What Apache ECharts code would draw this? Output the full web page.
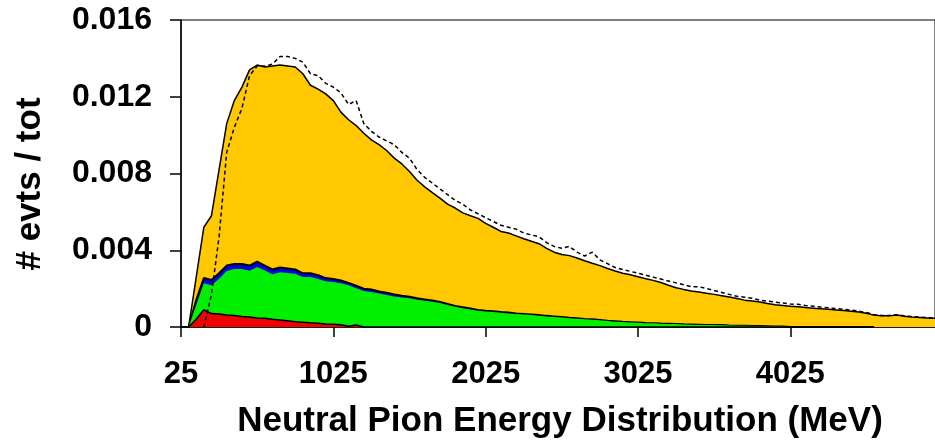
<!DOCTYPE html>
<html>
<head>
<meta charset="utf-8">
<script src="https://cdn.jsdelivr.net/npm/echarts@6/dist/echarts.min.js"></script>
<style>
html,body{margin:0;padding:0;background:#fff;}
#chart{width:935px;height:446px;}
</style>
</head>
<body>
<div id="chart"></div>
<script>
// Energy bins (MeV), step 50
const energies = [];
for (let e = 25; e <= 4975; e += 50) energies.push(String(e));

const yTicks = [0, 0.004, 0.008, 0.012, 0.016];

// Total distribution (yellow, solid outline)
const totalVals = [
0,0,0.0026,0.0052,0.0058,0.0082,0.0106,0.0118,0.0125,0.0134,
0.01365,0.01355,0.0136,0.01365,0.0136,0.01355,0.0132,0.0126,0.0124,0.01215,
0.0118,0.0112,0.0108,0.0105,0.0101,0.00975,0.0095,0.0092,0.0088,0.0085,
0.0081,0.00765,0.0073,0.0070,0.00672,0.0064,0.0062,0.00595,0.0058,0.00566,
0.0054,0.0052,0.00498,0.0049,0.00475,0.0046,0.00447,0.00434,0.0041,0.0039,
0.00378,0.00372,0.0036,0.00345,0.00332,0.0032,0.00305,0.00292,0.0028,0.00272,
0.00262,0.00252,0.00243,0.00232,0.00218,0.00205,0.00196,0.00188,0.00183,0.00176,
0.0017,0.00163,0.00156,0.00148,0.0014,0.00135,0.0013,0.00122,0.00116,0.00112,
0.00108,0.00105,0.00101,0.00098,0.00095,0.00092,0.00089,0.00086,0.00082,0.00078,
0.00072,0.00062,0.00058,0.00058,0.00062,0.00056,0.00052,0.0005,0.00047,0.00045
];

// Dashed comparison curve
const dashedVals = [
null,null,null,0,0.0017,0.0047,0.0091,0.0104,0.0114,0.0131,
0.0136,0.0136,0.0137,0.0141,0.0141,0.0140,0.0138,0.0132,0.0131,0.0127,
0.0125,0.0122,0.0116,0.0118,0.0106,0.0102,0.0099,0.0097,0.0095,0.0091,
0.0088,0.0082,0.0078,0.0075,0.0072,0.0069,0.0066,0.0064,0.0061,0.0059,
0.0057,0.0055,0.0053,0.0052,0.0051,0.0049,0.0048,0.0047,0.0044,0.0042,
0.0041,0.0042,0.0039,0.0037,0.0039,0.0035,0.0033,0.0031,0.0030,0.0029,
0.0028,0.0027,0.0026,0.0025,0.0024,0.0023,0.0022,0.0021,0.0021,0.0020,
0.0019,0.0018,0.0017,0.0016,0.00155,0.0015,0.0014,0.00135,0.0013,0.00125,
0.0012,0.00118,0.00112,0.00108,0.00104,0.0010,0.00096,0.00092,0.00088,0.00083,
0.00076,0.00064,0.0006,0.0006,0.00064,0.00058,0.00054,0.00052,0.00049,0.00047
];

// Blue component top
const blueVals = [
0,0,0.0014,0.00255,0.00245,0.0028,0.0032,0.00328,0.00328,0.0032,
0.0034,0.0032,0.0030,0.0031,0.00305,0.0030,0.0028,0.0028,0.0027,0.00255,
0.0025,0.00242,0.0023,0.00215,0.0020,0.00195,0.00185,0.00178,0.0017,0.00163,
0.00158,0.0015,0.00144,0.00138,0.00131,0.0012,0.0011,0.00103,0.00096,0.00089,
0.00085,0.00082,0.00078,0.00075,0.00071,0.00068,0.00065,0.00062,0.00058,0.00055,
0.00052,0.00048,0.00045,0.00042,0.0004,0.00037,0.00033,0.0003,0.00027,0.00025,
0.00023,0.00021,0.0002,0.00018,0.00017,0.00016,0.00014,0.00013,0.00012,0.00011,
0.0001,0.0001,0.00008,0.00007,0.00006,0.00005,0.00005,0.00004,0.00003,0.00002,
0,0,0,0,0,0,0,0,0,0,
0,0,null,null,null,null,null,null,null,null
];

// Green component top
const greenVals = [
0,0,0.00115,0.00228,0.00218,0.00252,0.00292,0.00302,0.00302,0.00293,
0.00313,0.00294,0.00275,0.00285,0.00281,0.00278,0.0026,0.0026,0.0025,0.00238,
0.00234,0.00228,0.00217,0.00202,0.00188,0.00183,0.00174,0.00167,0.00159,0.00154,
0.0015,0.00142,0.00137,0.00131,0.00125,0.00115,0.00105,0.00098,0.00091,0.00085,
0.00081,0.00078,0.00074,0.00071,0.00068,0.00065,0.00062,0.00059,0.00055,0.00052,
0.0005,0.00046,0.00043,0.0004,0.00038,0.00035,0.00031,0.00028,0.00026,0.00024,
0.00022,0.0002,0.00019,0.00017,0.00016,0.00015,0.00013,0.00012,0.00011,0.0001,
0.0001,0.00009,0.00008,0.00007,0.00006,0.00005,0.00005,0.00004,0.00003,0.00002,
0,0,0,0,0,0,0,0,0,0,
0,0,null,null,null,null,null,null,null,null
];

// Red component
const redVals = [
0,0,0.0004,0.0009,0.0007,0.00068,0.00063,0.0006,0.00055,0.00052,
0.00047,0.00045,0.0004,0.00036,0.00032,0.00028,0.00025,0.00022,0.0002,0.00016,
0.00014,0.00012,0.00004,0.0001,0,0,0,0,0,0,
0,0,0,0,0,0,0,0,0,0,
0,0,0,0,0,0,0,0,0,0,
0,0,0,0,0,0,0,0,0,0,
0,0,0,0,0,0,0,0,0,0,
0,0,0,0,0,0,0,0,0,0,
0,0,0,0,0,0,0,0,0,0,
0,0,null,null,null,null,null,null,null,null
];

const chart = echarts.init(document.getElementById('chart'), null, {renderer: 'canvas'});
const FONT = '"Liberation Sans", Arial, sans-serif';

function areaSeries(name, data, fill, lineW, z) {
  return {
    name: name, type: 'line', data: data, symbol: 'none', z: z,
    lineStyle: {color: '#000', width: lineW},
    areaStyle: {color: fill, opacity: 1},
    itemStyle: {color: fill},
    animation: false
  };
}

chart.setOption({
  animation: false,
  grid: {left: 181, top: 20, right: -4, bottom: 119, show: true, borderColor: '#000', borderWidth: 1, backgroundColor: 'transparent'},
  xAxis: {
    type: 'category', data: energies, boundaryGap: false,
    axisLine: {lineStyle: {color: '#000', width: 1.5}},
    axisTick: {show: true, interval: 19, length: 10, lineStyle: {color: '#000', width: 1.5}},
    axisLabel: {interval: 19, margin: 32, color: '#000', fontFamily: FONT, fontWeight: 'bold', fontSize: 31},
    splitLine: {show: false}
  },
  yAxis: {
    type: 'value', min: yTicks[0], max: yTicks[yTicks.length - 1], interval: 0.004,
    axisLine: {show: true, lineStyle: {color: '#000', width: 1.5}},
    axisTick: {show: true, length: 11, lineStyle: {color: '#000', width: 1.5}},
    axisLabel: {margin: 29, color: '#000', fontFamily: FONT, fontWeight: 'bold', fontSize: 32,
      formatter: v => v === 0 ? '0' : v.toFixed(3)},
    splitLine: {show: false}
  },
  graphic: [
    {type: 'text', style: {text: '# evts / tot', font: 'bold 35px ' + FONT, fill: '#000', textAlign: 'center', textVerticalAlign: 'middle'},
      x: 30, y: 184, rotation: Math.PI / 2},
    {type: 'text', style: {text: 'Neutral Pion Energy Distribution (MeV)', font: 'bold 35px ' + FONT, fill: '#000', textAlign: 'center', textVerticalAlign: 'middle'},
      x: 560, y: 421}
  ],
  series: [
    areaSeries('Total', totalVals, '#FFC800', 1.5, 2),
    areaSeries('Blue', blueVals, '#0000E0', 2, 3),
    Object.assign(areaSeries('Green', greenVals, '#00F000', 0, 4), {lineStyle: {width: 0, opacity: 0}}),
    areaSeries('Red', redVals, '#F00000', 1.5, 5),
    {name: 'Dashed', type: 'line', data: dashedVals, symbol: 'none', z: 6, connectNulls: false,
      lineStyle: {color: '#000', width: 1.5, type: [4, 3]}, animation: false}
  ]
});
</script>
</body>
</html>
